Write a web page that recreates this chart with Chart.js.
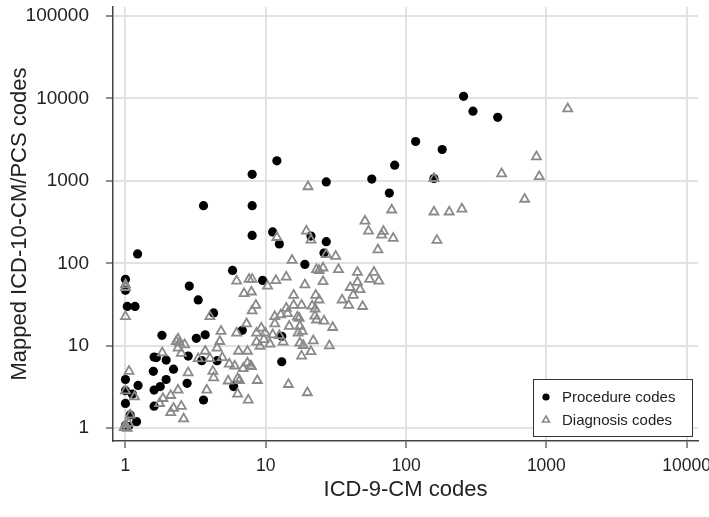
<!DOCTYPE html>
<html>
<head>
<meta charset="utf-8">
<script src="https://cdn.jsdelivr.net/npm/chart.js@4"></script>
<style>
  html, body { margin: 0; padding: 0; background: #fff; }
</style>
</head>
<body>
<canvas id="codesChart" width="709" height="517"></canvas>
<script>
// ICD-9-CM -> ICD-10-CM/PCS mapping counts
const procedureX = [257, 300, 450, 117, 181, 12, 83, 8, 57, 158, 27, 76, 3.6, 8, 11.2, 8, 21, 27, 12.5, 26,
  1.22, 19, 5.8, 1, 9.5, 2.85, 1, 3.3, 1.03, 1.17, 4.25, 6.8, 3.7, 1.82, 13, 3.2, 2.8, 1.6, 1.66, 1.95,
  3.5, 4.5, 13, 2.2, 1.58, 1, 1.95, 2.75, 1.23, 5.9, 1.77, 1.6, 1, 1.12, 3.6, 1, 1.6, 1.08, 1.2, 1, 1.05];
const procedureY = [10600, 7000, 5900, 3000, 2400, 1750, 1550, 1200, 1050, 1070, 970, 710, 500, 500, 240, 218, 214, 183, 172, 133,
  130, 97, 82, 64, 62, 53, 47, 36, 30, 30, 25, 15.4, 13.6, 13.4, 13, 12.3, 7.5, 7.3, 7.2, 6.7,
  6.6, 6.6, 6.4, 5.2, 4.9, 3.9, 3.9, 3.5, 3.3, 3.2, 3.2, 2.9, 2.85, 2.6, 2.2, 2, 1.85, 1.45, 1.2, 1.08, 1.05];

const diagnosisX = [1420, 850, 480, 890, 700, 158, 158, 203, 250, 166, 79, 51, 54, 69, 67, 81, 20, 19.5, 21, 12,
  63, 15.4, 27, 31.5, 23, 24, 25.6, 33, 45, 59, 55, 64, 45, 40, 47, 42, 35, 39, 49, 19,
  25.6, 14, 11.8, 10.3, 8, 7.9, 7, 7.6, 6.2, 15.8, 22.7, 24, 15.8, 18, 22.5, 21.4, 8.5, 8, 14.3, 14,
  16.8, 17.3, 22.4, 23, 26, 30, 11.6, 11.6, 12.8, 17.5, 14.7, 9.3, 8.6, 9.9, 11.2, 12.5, 17, 18.2, 8.6, 9.7,
  10.7, 9.1, 13.3, 17.5, 18.5, 21.8, 21, 18, 28.4, 7.9, 8.7, 14.5, 19.8, 7.5, 6.3, 6.3, 6.5, 5.4, 5.5, 6,
  6.9, 7.4, 7.8, 6.4, 7.4, 6.2, 7.3, 4, 4.8, 4.7, 4.5, 3.7, 4, 3.3, 4.9, 1.83, 2.37, 2.3, 2.43, 2.64,
  2.37, 2.5, 4.2, 4.25, 3.8, 2.8, 2.37, 2.1, 1.85, 1.75, 2.5, 2.2, 2.1, 2.6, 1.06, 1, 1.16, 1.08, 1, 0.98,
  1.03, 1.05, 1, 1, 1];
const diagnosisY = [7500, 1960, 1220, 1130, 600, 1070, 420, 420, 456, 190, 444, 325, 246, 244, 220, 201, 850, 246, 192, 206,
  146, 109, 128, 122, 84, 82, 88, 84, 78, 78, 64, 61, 59, 51, 48, 41, 36, 31, 30, 55,
  60, 68, 62, 53, 64, 45, 43, 64, 61, 41, 41, 36, 31, 31, 28, 30.4, 31, 26.5, 24.6, 28.5,
  22.4, 21.6, 23, 20.6, 20, 16.7, 22.6, 18.5, 23.7, 17.2, 17.2, 16.4, 14.3, 14.3, 13.6, 13.3, 14.3, 15, 11.1, 11.9,
  10.5, 9.9, 11.1, 10.8, 10.1, 11.5, 8.5, 7.5, 10, 5.6, 3.8, 3.4, 2.7, 2.2, 2.6, 4, 3.8, 3.75, 6, 5.7,
  5.3, 6.2, 5.7, 8.6, 8.6, 14.3, 18.5, 22.6, 15, 11.3, 9.4, 8.6, 7, 7, 7.2, 8.2, 12.1, 11.3, 10.8, 10.3,
  9.4, 8.1, 4.9, 4.1, 2.9, 4.7, 2.9, 2.5, 2.3, 2, 1.85, 1.75, 1.55, 1.3, 4.9, 2.85, 2.4, 1.45, 1.1, 1.02,
  1, 1.15, 55, 51, 22.6];

const xTicks = [1, 10, 100, 1000, 10000];
const yTicks = [1, 10, 100, 1000, 10000, 100000];

const FONT = "'Liberation Sans', Arial, sans-serif";
Chart.defaults.font.family = FONT;

function toPoints(xs, ys) {
  return xs.map((x, i) => ({ x: x, y: ys[i] }));
}

// legend box drawn inside the plot, bottom right
const legendBox = {
  id: "legendBox",
  afterDraw(chart) {
    const ctx = chart.ctx;
    const area = chart.chartArea;
    const w = 159, h = 57;
    const left = area.right - 6 - w;
    const top = area.bottom - 5 - h;
    ctx.save();
    ctx.fillStyle = "#fff";
    ctx.fillRect(left, top, w, h);
    ctx.strokeStyle = "#333";
    ctx.lineWidth = 1;
    ctx.strokeRect(left + 0.5, top + 0.5, w, h);

    const rows = [chart.data.datasets[1], chart.data.datasets[0]];
    rows.forEach((ds, i) => {
      const cy = top + 18 + i * 23;
      const cx = left + 13;
      ctx.beginPath();
      if (ds.pointStyle === "triangle") {
        const r = 4;
        ctx.moveTo(cx, cy - r);
        ctx.lineTo(cx + r * 0.866, cy + r * 0.5);
        ctx.lineTo(cx - r * 0.866, cy + r * 0.5);
        ctx.closePath();
        ctx.strokeStyle = ds.borderColor;
        ctx.lineWidth = 1.6;
        ctx.stroke();
      } else {
        ctx.arc(cx, cy, 3.6, 0, Math.PI * 2);
        ctx.fillStyle = ds.backgroundColor;
        ctx.fill();
      }
      ctx.fillStyle = "#222";
      ctx.font = "15px " + FONT;
      ctx.textBaseline = "middle";
      ctx.textAlign = "left";
      ctx.fillText(ds.label, left + 29, cy + 1);
    });
    ctx.restore();
  }
};

const ctx = document.getElementById("codesChart").getContext("2d");
new Chart(ctx, {
  type: "scatter",
  data: {
    datasets: [
      {
        label: "Diagnosis codes",
        data: toPoints(diagnosisX, diagnosisY),
        pointStyle: "triangle",
        pointRadius: 5.2,
        pointBorderWidth: 1.8,
        borderColor: "#8a8a8a",
        backgroundColor: "rgba(255,255,255,0)"
      },
      {
        label: "Procedure codes",
        data: toPoints(procedureX, procedureY),
        pointStyle: "circle",
        pointRadius: 4.6,
        pointBorderWidth: 0,
        borderColor: "#000",
        backgroundColor: "#000"
      }
    ]
  },
  options: {
    responsive: false,
    animation: false,
    devicePixelRatio: 1,
    layout: { padding: { left: 0, right: 11, top: 0, bottom: 0 } },
    plugins: {
      legend: { display: false },
      tooltip: { enabled: false }
    },
    scales: {
      x: {
        type: "logarithmic",
        min: 0.815,
        max: 12050,
        afterBuildTicks: (s) => { s.ticks = xTicks.map(v => ({ value: v })); },
        afterFit: (s) => { s.height = 76; s.paddingLeft = 0; s.paddingRight = 0; },
        grid: { color: "#e2e2e2", lineWidth: 2, tickLength: 7, tickColor: "#444", tickWidth: 1.2 },
        border: { color: "#444", width: 1.5 },
        ticks: {
          autoSkip: false,
          maxRotation: 0,
          padding: 8,
          color: "#222",
          font: { size: 17.5 },
          callback: (v) => String(v)
        },
        title: {
          display: true,
          text: "ICD-9-CM codes",
          color: "#222",
          font: { size: 22 },
          padding: { top: 0, bottom: 14 }
        }
      },
      y: {
        type: "logarithmic",
        min: 0.727,
        max: 128300,
        afterBuildTicks: (s) => { s.ticks = yTicks.map(v => ({ value: v })); },
        afterFit: (s) => { s.width = 113; s.paddingTop = 0; s.paddingBottom = 0; },
        grid: { color: "#e2e2e2", lineWidth: 2, tickLength: 7, tickColor: "#444", tickWidth: 1.2 },
        border: { color: "#444", width: 1.5 },
        ticks: {
          autoSkip: false,
          padding: 17,
          color: "#222",
          font: { size: 19 },
          callback: (v) => String(v)
        },
        title: {
          display: true,
          text: "Mapped ICD-10-CM/PCS codes",
          color: "#222",
          font: { size: 22 },
          padding: { top: 7, bottom: 0 }
        }
      }
    }
  },
  plugins: [legendBox]
});
</script>
</body>
</html>
